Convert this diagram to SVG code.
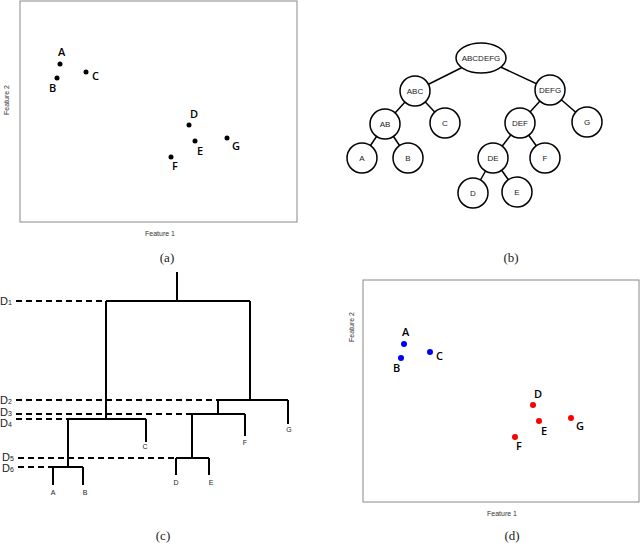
<svg xmlns="http://www.w3.org/2000/svg" width="640" height="547" viewBox="0 0 640 547">
<defs>
<style>
.ax{fill:none;stroke:#888;stroke-width:1}
.lbl{font-family:"Open Sans","Liberation Sans",sans-serif;font-size:11px;font-weight:600;fill:#000}
.axl{font-family:"Liberation Sans",sans-serif;font-size:7px;fill:#333}
.cap{font-family:"Liberation Serif",serif;font-size:13px;fill:#222;text-anchor:middle}
.nd{fill:#fff;stroke:#000;stroke-width:1.5}
.nt{font-family:"Liberation Sans",sans-serif;font-size:8px;text-anchor:middle;fill:#222}
.ln{stroke:#000;stroke-width:1.5;fill:none}
.dn{stroke:#000;stroke-width:2;fill:none}
.ds{stroke:#000;stroke-width:2;fill:none;stroke-dasharray:6,4}
.dl{font-family:"Liberation Sans",sans-serif;font-size:11px;fill:#222}
.leaf{font-family:"Liberation Sans",sans-serif;font-size:7px;fill:#222;text-anchor:middle}
</style>
<g id="ptl">
<text class="lbl" x="58" y="56">A</text><text class="lbl" x="49" y="92">B</text><text class="lbl" x="92" y="80">C</text>
<text class="lbl" x="190" y="118">D</text><text class="lbl" x="197" y="155">E</text><text class="lbl" x="172" y="170">F</text><text class="lbl" x="232" y="150">G</text>
</g>
</defs>
<rect width="640" height="547" fill="#fff"/>
<g id="panel-a">
<rect class="ax" x="20" y="1" width="277" height="221"/>
<g><circle cx="60" cy="64" r="2.5"/><circle cx="57" cy="78" r="2.5"/><circle cx="86" cy="72" r="2.5"/>
<circle cx="189" cy="125" r="2.5"/><circle cx="195" cy="141" r="2.5"/><circle cx="171" cy="157" r="2.5"/><circle cx="227" cy="138" r="2.5"/></g>
<use href="#ptl"/>
<text class="axl" x="160" y="236" text-anchor="middle">Feature 1</text>
<text class="axl" transform="translate(9,100) rotate(-90)" text-anchor="middle">Feature 2</text>
<text class="cap" x="167" y="262">(a)</text>
</g>
<g id="panel-b">
<g id="connectors-b">
<line class="ln" x1="481" y1="58" x2="415" y2="91"/><line class="ln" x1="481" y1="58" x2="550" y2="90"/>
<line class="ln" x1="415" y1="91" x2="385" y2="124"/><line class="ln" x1="415" y1="91" x2="445" y2="123"/>
<line class="ln" x1="550" y1="90" x2="520" y2="123"/><line class="ln" x1="550" y1="90" x2="587" y2="122"/>
<line class="ln" x1="385" y1="124" x2="362" y2="158"/><line class="ln" x1="385" y1="124" x2="408" y2="158"/>
<line class="ln" x1="520" y1="123" x2="493" y2="158"/><line class="ln" x1="520" y1="123" x2="545" y2="158"/>
<line class="ln" x1="493" y1="158" x2="473" y2="193"/><line class="ln" x1="493" y1="158" x2="517" y2="192"/>
</g>
<g id="n-ABCDEFG"><ellipse class="nd" cx="481" cy="58" rx="25" ry="15"/><text class="nt" x="481" y="61">ABCDEFG</text></g>
<g id="n-ABC"><circle class="nd" cx="415" cy="91" r="15"/><text class="nt" x="415" y="94">ABC</text></g>
<g id="n-DEFG"><circle class="nd" cx="550" cy="90" r="15"/><text class="nt" x="550" y="93">DEFG</text></g>
<g id="n-AB"><circle class="nd" cx="385" cy="124" r="15"/><text class="nt" x="385" y="127">AB</text></g>
<g id="n-C"><circle class="nd" cx="445" cy="123" r="15"/><text class="nt" x="445" y="126">C</text></g>
<g id="n-DEF"><circle class="nd" cx="520" cy="123" r="15"/><text class="nt" x="520" y="126">DEF</text></g>
<g id="n-G"><circle class="nd" cx="587" cy="122" r="15"/><text class="nt" x="587" y="125">G</text></g>
<g id="n-A"><circle class="nd" cx="362" cy="158" r="15"/><text class="nt" x="362" y="161">A</text></g>
<g id="n-B"><circle class="nd" cx="408" cy="158" r="15"/><text class="nt" x="408" y="161">B</text></g>
<g id="n-DE"><circle class="nd" cx="493" cy="158" r="15"/><text class="nt" x="493" y="161">DE</text></g>
<g id="n-F"><circle class="nd" cx="545" cy="158" r="15"/><text class="nt" x="545" y="161">F</text></g>
<g id="n-D"><circle class="nd" cx="473" cy="193" r="15"/><text class="nt" x="473" y="196">D</text></g>
<g id="n-E"><circle class="nd" cx="517" cy="192" r="15"/><text class="nt" x="517" y="195">E</text></g>
<text class="cap" x="511" y="262">(b)</text>
</g>
<g id="panel-c">
<g id="dashes">
<line class="ds" x1="16" y1="301" x2="106" y2="301"/>
<line class="ds" x1="16" y1="400" x2="218" y2="400"/>
<line class="ds" x1="16" y1="414" x2="192" y2="414"/>
<line class="ds" x1="16" y1="419" x2="68" y2="419"/>
<line class="ds" x1="18" y1="458" x2="176" y2="458"/>
<line class="ds" x1="18" y1="467" x2="53" y2="467"/>
</g>
<g id="dendro">
<path class="dn" d="M177 272V301M106 301H250M106 301V419M250 301V400M218 400H288M288 400V424M218 400V414M192 414H245M245 414V436M192 414V458M176 458H209M176 458V475M209 458V475M68 419H146M146 419V442M68 419V467M53 467H83M53 467V485M83 467V485"/>
</g>
<g id="dlabels">
<text class="dl" x="0" y="305">D<tspan font-size="7">1</tspan></text>
<text class="dl" x="0" y="404">D<tspan font-size="7">2</tspan></text>
<text class="dl" x="0" y="416">D<tspan font-size="7">3</tspan></text>
<text class="dl" x="0" y="427">D<tspan font-size="7">4</tspan></text>
<text class="dl" x="2" y="461">D<tspan font-size="7">5</tspan></text>
<text class="dl" x="2" y="472">D<tspan font-size="7">6</tspan></text>
</g>
<text class="leaf" x="53" y="495">A</text><text class="leaf" x="85" y="495">B</text>
<text class="leaf" x="145" y="449">C</text><text class="leaf" x="176" y="485">D</text><text class="leaf" x="211" y="485">E</text>
<text class="leaf" x="245" y="445">F</text><text class="leaf" x="289" y="432">G</text>
<text class="cap" x="163" y="540">(c)</text>
</g>
<g id="panel-d">
<rect class="ax" x="363" y="280" width="276" height="222"/>
<g transform="translate(344,280)">
<g fill="#00f"><circle cx="60" cy="64" r="3"/><circle cx="57" cy="78" r="3"/><circle cx="86" cy="72" r="3"/></g>
<g fill="#f00"><circle cx="189" cy="125" r="3"/><circle cx="195" cy="141" r="3"/><circle cx="171" cy="157" r="3"/><circle cx="227" cy="138" r="3"/></g>
<use href="#ptl"/>
</g>
<text class="axl" x="502" y="516" text-anchor="middle">Feature 1</text>
<text class="axl" transform="translate(354,327) rotate(-90)" text-anchor="middle">Feature 2</text>
<text class="cap" x="512" y="540">(d)</text>
</g>
</svg>
